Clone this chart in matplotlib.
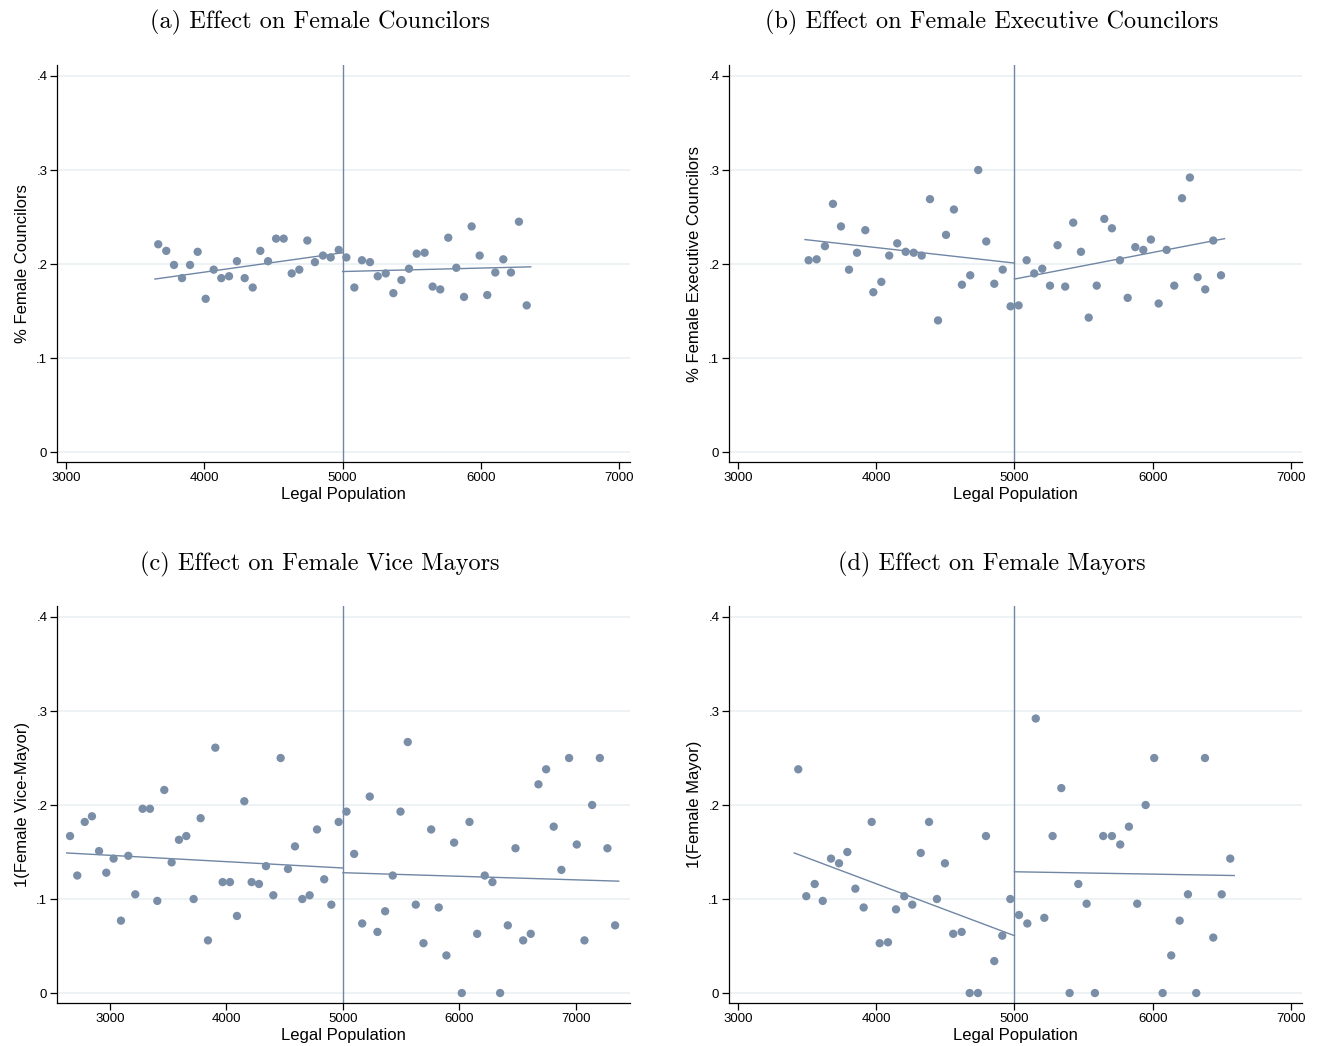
import numpy as np
import matplotlib
matplotlib.use("Agg")
import matplotlib.pyplot as plt

# panel titles and axis labels
titles = ["(a) Effect on Female Councilors", "(b) Effect on Female Executive Councilors",
          "(c) Effect on Female Vice Mayors", "(d) Effect on Female Mayors"]
ylabels = ["% Female Councilors", "% Female Executive Councilors",
           "1(Female Vice-Mayor)", "1(Female Mayor)"]
xlabel = "Legal Population"
yticks = [0, 0.1, 0.2, 0.3, 0.4]
yticklabels = ["0", ".1", ".2", ".3", ".4"]
xticks = [3000, 4000, 5000, 6000, 7000]
cutoff = 5000

# (a) binned means
a_x = [3667, 3725, 3781, 3839, 3897, 3952, 4010, 4068, 4123, 4179, 4236, 4292, 4350, 4405,
       4461, 4519, 4574, 4632, 4687, 4745, 4800, 4858, 4914, 4972,
       5027, 5085, 5140, 5198, 5254, 5312, 5367, 5425, 5480, 5536, 5593, 5651, 5706, 5764,
       5822, 5878, 5933, 5991, 6046, 6104, 6162, 6217, 6275, 6331]
a_y = [0.221, 0.214, 0.199, 0.185, 0.199, 0.213, 0.163, 0.194, 0.185, 0.187, 0.203, 0.185,
       0.175, 0.214, 0.203, 0.227, 0.227, 0.190, 0.194, 0.225, 0.202, 0.209, 0.207, 0.215,
       0.207, 0.175, 0.204, 0.202, 0.187, 0.190, 0.169, 0.183, 0.195, 0.211, 0.212, 0.176,
       0.173, 0.228, 0.196, 0.165, 0.240, 0.209, 0.167, 0.191, 0.205, 0.191, 0.245, 0.156]
a_fit_left = ([3643, 5000], [0.184, 0.212])
a_fit_right = ([5000, 6360], [0.192, 0.197])

# (b)
b_x = [3511, 3569, 3629, 3687, 3745, 3803, 3861, 3921, 3979, 4037, 4094, 4152, 4213, 4271,
       4329, 4389, 4447, 4505, 4562, 4620, 4680, 4738, 4796, 4854, 4915, 4972,
       5030, 5088, 5143, 5201, 5257, 5312, 5367, 5425, 5481, 5537, 5595, 5650, 5705, 5763,
       5819, 5874, 5932, 5987, 6043, 6101, 6156, 6212, 6269, 6325, 6380, 6438, 6494]
b_y = [0.204, 0.205, 0.219, 0.264, 0.240, 0.194, 0.212, 0.236, 0.170, 0.181, 0.209, 0.222,
       0.213, 0.212, 0.209, 0.269, 0.140, 0.231, 0.258, 0.178, 0.188, 0.300, 0.224, 0.179,
       0.194, 0.155,
       0.156, 0.204, 0.190, 0.195, 0.177, 0.220, 0.176, 0.244, 0.213, 0.143, 0.177, 0.248,
       0.238, 0.204, 0.164, 0.218, 0.215, 0.226, 0.158, 0.215, 0.177, 0.270, 0.292, 0.186,
       0.173, 0.225, 0.188]
b_fit_left = ([3485, 5000], [0.226, 0.201])
b_fit_right = ([5000, 6520], [0.184, 0.227])

# (c)
c_x = [2657, 2719, 2783, 2845, 2906, 2968, 3031, 3094, 3157, 3217, 3280, 3343, 3406, 3466,
       3529, 3592, 3655, 3718, 3778, 3841, 3904, 3967, 4030, 4090, 4153, 4216, 4279, 4339,
       4402, 4465, 4528, 4588, 4651, 4714, 4777, 4839, 4900, 4963,
       5030, 5096, 5165, 5230, 5296, 5362, 5427, 5494, 5556, 5625, 5691, 5757, 5822, 5888,
       5954, 6020, 6086, 6152, 6217, 6283, 6349, 6415, 6481, 6547, 6612, 6678, 6744, 6809,
       6875, 6941, 7007, 7073, 7139, 7205, 7270, 7336]
c_y = [0.167, 0.125, 0.182, 0.188, 0.151, 0.128, 0.143, 0.077, 0.146, 0.105, 0.196, 0.196,
       0.098, 0.216, 0.139, 0.163, 0.167, 0.100, 0.186, 0.056, 0.261, 0.118, 0.118, 0.082,
       0.204, 0.118, 0.116, 0.135, 0.104, 0.250, 0.132, 0.156, 0.100, 0.104, 0.174, 0.121,
       0.094, 0.182,
       0.193, 0.148, 0.074, 0.209, 0.065, 0.087, 0.125, 0.193, 0.267, 0.094, 0.053, 0.174,
       0.091, 0.040, 0.160, 0.000, 0.182, 0.063, 0.125, 0.118, 0.000, 0.072, 0.154, 0.056,
       0.063, 0.222, 0.238, 0.177, 0.131, 0.250, 0.158, 0.056, 0.200, 0.250, 0.154, 0.072]
c_fit_left = ([2628, 5000], [0.149, 0.133])
c_fit_right = ([5000, 7367], [0.128, 0.119])

# (d)
d_x = [3436, 3494, 3555, 3613, 3673, 3731, 3791, 3849, 3909, 3967, 4025, 4085, 4143, 4203,
       4261, 4322, 4382, 4439, 4497, 4557, 4618, 4676, 4736, 4794, 4854, 4912, 4970,
       5033, 5093, 5154, 5216, 5276, 5339, 5399, 5462, 5522, 5582, 5642, 5705, 5765, 5828,
       5888, 5949, 6011, 6072, 6134, 6195, 6255, 6315, 6378, 6438, 6499, 6561]
d_y = [0.238, 0.103, 0.116, 0.098, 0.143, 0.138, 0.150, 0.111, 0.091, 0.182, 0.053, 0.054,
       0.089, 0.103, 0.094, 0.149, 0.182, 0.100, 0.138, 0.063, 0.065, 0.000, 0.000, 0.167,
       0.034, 0.061, 0.100,
       0.083, 0.074, 0.292, 0.080, 0.167, 0.218, 0.000, 0.116, 0.095, 0.000, 0.167, 0.167,
       0.158, 0.177, 0.095, 0.200, 0.250, 0.000, 0.040, 0.077, 0.105, 0.000, 0.250, 0.059,
       0.105, 0.143]
d_fit_left = ([3407, 5000], [0.149, 0.061])
d_fit_right = ([5000, 6590], [0.129, 0.125])

dot_color = "#7a8ea8"
line_color = "#6f86a4"
grid_color = "#eaf1f2"

plt.rcParams["font.family"] = ["Liberation Sans", "DejaVu Sans"]

fig = plt.figure(figsize=(13.17, 10.46), dpi=100)
W, H = 1317, 1046


def panel(rect, title, title_xy, ylab, xs, ys, fit_l, fit_r, xlim):
    l, t, r, b = rect
    ax = fig.add_axes([l / W, 1 - b / H, (r - l) / W, (b - t) / H])
    ax.set_xlim(*xlim)
    ax.set_ylim(-0.0106, 0.4117)
    for y in yticks:
        ax.axhline(y, color=grid_color, lw=1.2, zorder=0)
    ax.axvline(cutoff, color=line_color, lw=1.0, zorder=1)
    ax.scatter(xs, ys, s=36, color=dot_color, edgecolors="none", zorder=3)
    ax.plot(fit_l[0], fit_l[1], color=line_color, lw=1.0, zorder=2)
    ax.plot(fit_r[0], fit_r[1], color=line_color, lw=1.0, zorder=2)
    ax.set_yticks(yticks)
    ax.set_yticklabels(yticklabels)
    ax.set_xticks(xticks)
    ax.tick_params(axis="both", labelsize=9.5, length=5, width=0.9, direction="out", pad=2)
    for s in ["top", "right"]:
        ax.spines[s].set_visible(False)
    for s in ["left", "bottom"]:
        ax.spines[s].set_linewidth(0.9)
    ax.set_ylabel(ylab, fontsize=12)
    ax.yaxis.set_label_coords(-0.047, 0.5)
    ax.set_xlabel(xlabel, fontsize=12)
    ax.xaxis.set_label_coords(0.5, -0.062)
    fig.text(title_xy[0] / W, 1 - title_xy[1] / H, title, family="cmr10", fontsize=17.5,
             ha="center", va="center")
    return ax


panel((57, 65, 630, 462), titles[0], (320, 22), ylabels[0], a_x, a_y, a_fit_left, a_fit_right, (2935, 7078))
panel((729, 65, 1302, 462), titles[1], (992, 22), ylabels[1], b_x, b_y, b_fit_left, b_fit_right, (2935, 7080))
panel((57, 606, 630, 1003), titles[2], (320, 564), ylabels[2], c_x, c_y, c_fit_left, c_fit_right, (2545, 7464))
panel((729, 606, 1302, 1003), titles[3], (992, 564), ylabels[3], d_x, d_y, d_fit_left, d_fit_right, (2935, 7080))

fig.savefig("out.png", dpi=100)
